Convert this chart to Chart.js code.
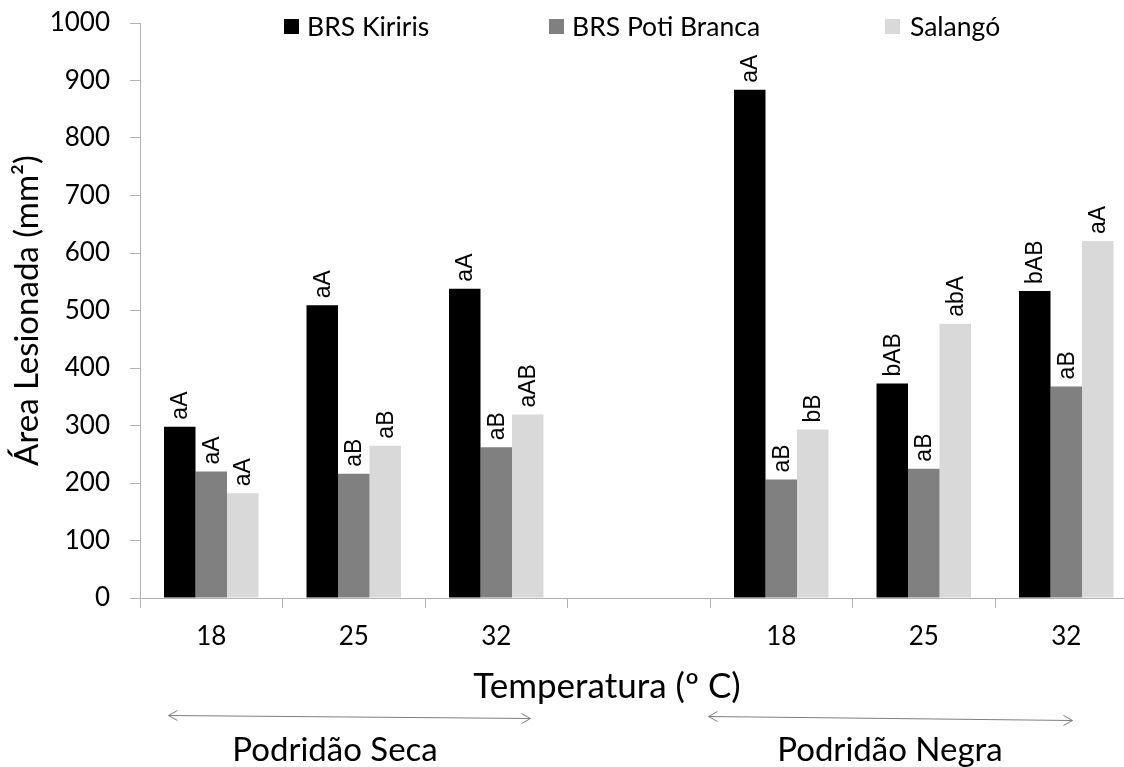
<!DOCTYPE html>
<html><head><meta charset="utf-8">
<script src="https://cdn.jsdelivr.net/npm/chart.js@4.4.1/dist/chart.umd.min.js"></script>
<style>html,body{margin:0;padding:0;overflow:hidden;background:#fff;width:1124px;height:767px}canvas{display:block}</style>
</head><body>
<canvas id="c" width="1150" height="767"></canvas>
<script>
const temperatureLabels = ['18', '25', '32', '', '18', '25', '32'];
const seriesNames = ['BRS Kiriris', 'BRS Poti Branca', 'Salangó'];
const kiririsValues = [298, 509, 538, null, 884, 373, 534];
const potiBrancaValues = [220, 216, 262, null, 206, 225, 368];
const salangoValues = [182, 265, 319, null, 293, 477, 621];
const kiririsLetters = ['aA', 'aA', 'aA', '', 'aA', 'bAB', 'bAB'];
const potiBrancaLetters = ['aA', 'aB', 'aB', '', 'aB', 'aB', 'aB'];
const salangoLetters = ['aA', 'aB', 'aAB', '', 'bB', 'abA', 'aA'];
const yMin = 0, yMax = 1000, yStep = 100;
const yTitle = 'Área Lesionada (mm²)';
const xTitle = 'Temperatura (º C)';
const groupNames = ['Podridão Seca', 'Podridão Negra'];

const FONT = 'Lato, "Open Sans", sans-serif';
const colors = ['#000000', '#808080', '#d9d9d9'];
const letters = [kiririsLetters, potiBrancaLetters, salangoLetters];

const barLabelPlugin = {
  id: 'barLabels',
  afterDatasetsDraw(chart) {
    const ctx = chart.ctx;
    ctx.save();
    ctx.font = '23px "Liberation Sans", Arial, sans-serif';
    ctx.fillStyle = '#000';
    ctx.textAlign = 'left';
    ctx.textBaseline = 'middle';
    chart.data.datasets.forEach((ds, i) => {
      const meta = chart.getDatasetMeta(i);
      meta.data.forEach((bar, j) => {
        const txt = letters[i][j];
        if (!txt || ds.data[j] == null) return;
        ctx.save();
        ctx.translate(bar.x + 1, bar.y - 7);
        ctx.rotate(-Math.PI / 2);
        ctx.fillText(txt, 0, 0);
        ctx.restore();
      });
    });
    ctx.restore();
  }
};

const extrasPlugin = {
  id: 'extras',
  afterDraw(chart) {
    const ctx = chart.ctx;
    ctx.save();
    const legendPos = [[284, 307], [549, 572], [885, 910]];
    ctx.font = '26.5px ' + FONT;
    ctx.textBaseline = 'middle';
    ctx.textAlign = 'left';
    chart.data.datasets.forEach((ds, i) => {
      ctx.fillStyle = ds.backgroundColor;
      ctx.fillRect(legendPos[i][0], 19, 15, 15);
      ctx.fillStyle = '#000';
      ctx.fillText(ds.label, legendPos[i][1], 27);
    });
    ctx.textAlign = 'center';
    ctx.font = '35px ' + FONT;
    ctx.fillText(xTitle, 607, 687);
    ctx.font = '33px ' + FONT;
    ctx.fillText(groupNames[0], 335, 750);
    ctx.fillText(groupNames[1], 890, 750);
    ctx.strokeStyle = '#7f7f7f';
    ctx.lineWidth = 1;
    const arrow = (x1, y1, x2, y2) => {
      ctx.beginPath();
      ctx.moveTo(x1, y1); ctx.lineTo(x2, y2);
      ctx.moveTo(x1 + 9, y1 - 5); ctx.lineTo(x1, y1); ctx.lineTo(x1 + 9, y1 + 5);
      ctx.moveTo(x2 - 9, y2 - 5); ctx.lineTo(x2, y2); ctx.lineTo(x2 - 9, y2 + 5);
      ctx.stroke();
    };
    arrow(168.5, 715.5, 530.5, 718.5);
    arrow(708.5, 716.5, 1072.5, 720.5);
    ctx.restore();
  }
};

new Chart(document.getElementById('c'), {
  type: 'bar',
  data: {
    labels: temperatureLabels,
    datasets: [
      { label: seriesNames[0], data: kiririsValues, backgroundColor: colors[0] },
      { label: seriesNames[1], data: potiBrancaValues, backgroundColor: colors[1] },
      { label: seriesNames[2], data: salangoValues, backgroundColor: colors[2] }
    ]
  },
  options: {
    responsive: false,
    animation: false,
    devicePixelRatio: 1,
    layout: { padding: { left: 0, top: 23, right: 12.5, bottom: 0 } },
    datasets: { bar: { categoryPercentage: 0.663, barPercentage: 1.0 } },
    plugins: { legend: { display: false }, tooltip: { enabled: false } },
    scales: {
      x: {
        offset: true,
        grid: { offset: true, drawOnChartArea: false, drawTicks: true, tickLength: 10, color: '#b3b3b3' },
        border: { color: '#b3b3b3', width: 1 },
        ticks: { font: { family: FONT, size: 26 }, color: '#000', padding: 13, maxRotation: 0, autoSkip: false },
        afterFit(s) { s.height = 169; s.paddingLeft = 0; s.paddingRight = 0; }
      },
      y: {
        min: yMin, max: yMax,
        grid: { drawOnChartArea: false, drawTicks: true, tickLength: 10, color: '#b3b3b3' },
        border: { color: '#b3b3b3', width: 1 },
        ticks: { stepSize: yStep, font: { family: FONT, size: 26 }, color: '#000', padding: 20,
                 callback: (v) => String(v) },
        title: { display: true, text: yTitle, font: { family: FONT, size: 33 }, color: '#000', padding: { top: 8, bottom: 0 } },
        afterFit(s) { s.width = 140; s.paddingTop = 0; s.paddingBottom = 0; }
      }
    }
  },
  plugins: [barLabelPlugin, extrasPlugin]
});
</script>
</body></html>
